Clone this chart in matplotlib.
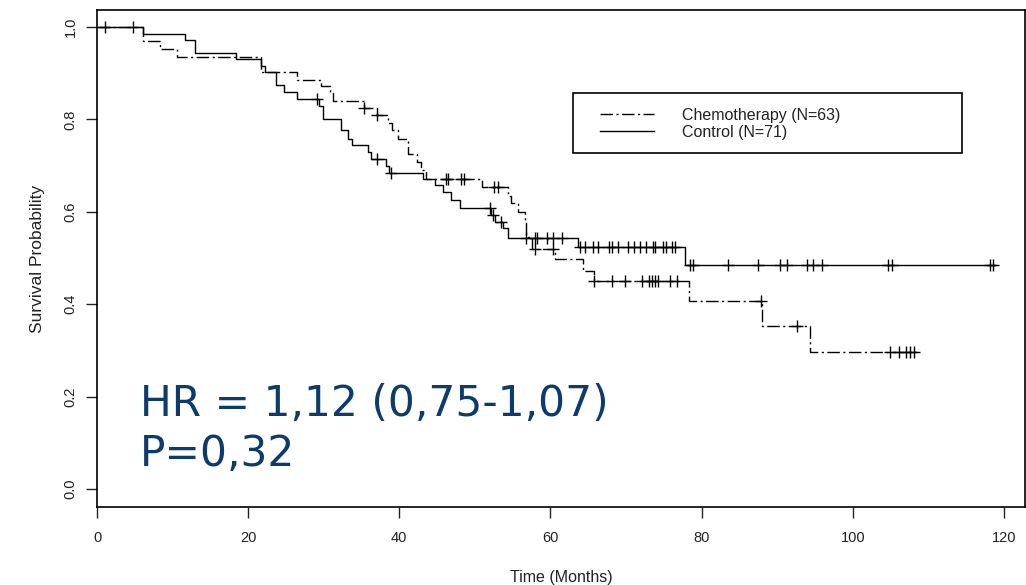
import numpy as np
import matplotlib
matplotlib.use('Agg')
import matplotlib.pyplot as plt
from matplotlib.patches import Rectangle

plt.rcParams['font.family'] = ['Liberation Sans', 'DejaVu Sans']
plt.rcParams['lines.scale_dashes'] = False

# Chemotherapy (N=63): step times and survival after each step
chemo_t = [0, 6.1, 8.4, 10.6, 21.7, 26.4, 29.7, 30.8, 31.2, 35.3, 37.0, 38.5, 39.0, 39.8,
           41.2, 42.3, 42.9, 43.6, 50.9, 54.4, 54.8, 55.7, 56.6, 56.8, 57.5, 60.6, 64.3,
           65.8, 78.3, 88.0, 94.4]
chemo_s = [1.0, 0.969, 0.952, 0.936, 0.902, 0.886, 0.873, 0.857, 0.841, 0.825, 0.809, 0.793,
           0.777, 0.758, 0.725, 0.707, 0.690, 0.672, 0.653, 0.635, 0.619, 0.599, 0.578, 0.545,
           0.519, 0.497, 0.472, 0.450, 0.407, 0.353, 0.296]
chemo_end = 108.5
chemo_cens = [35.3, 37.0, 46.2, 46.5, 48.2, 48.5, 52.6, 53.0, 57.9, 60.4, 65.8, 68.1, 69.9,
              72.1, 73.0, 73.4, 73.8, 74.3, 75.8, 76.7, 87.8, 92.6, 105.0, 106.1, 107.0,
              107.6, 108.1]

# Control (N=71)
ctrl_t = [0, 6.1, 11.7, 13.0, 18.4, 21.7, 22.2, 23.7, 24.8, 26.4, 29.4, 29.9, 32.3, 33.2,
          33.7, 35.9, 36.3, 38.3, 38.7, 43.2, 44.7, 45.8, 46.9, 48.0, 52.2, 52.7, 53.7, 54.4,
          63.7, 77.8]
ctrl_s = [1.0, 0.986, 0.972, 0.944, 0.930, 0.916, 0.902, 0.874, 0.859, 0.845, 0.830, 0.802,
          0.777, 0.758, 0.745, 0.729, 0.715, 0.700, 0.685, 0.672, 0.658, 0.642, 0.625, 0.609,
          0.594, 0.579, 0.565, 0.543, 0.523, 0.486]
ctrl_end = 118.8
ctrl_cens = [1.1, 4.7, 29.1, 37.0, 38.9, 52.0, 52.4, 53.4, 56.8, 57.9, 58.2, 59.5, 60.4, 61.5,
             63.9, 64.6, 65.7, 66.3, 67.7, 68.1, 69.0, 70.3, 71.0, 71.9, 72.7, 73.6, 73.8,
             74.9, 75.3, 76.1, 76.5, 78.5, 78.9, 83.5, 87.5, 90.4, 91.3, 93.9, 94.8, 95.9,
             104.7, 105.2, 118.2, 118.6]

labels = ['Chemotherapy (N=63)', 'Control (N=71)']
hr_text = 'HR = 1,12 (0,75-1,07)'
p_text = 'P=0,32'

dashdot = (0, (9, 2.5, 1.5, 2.5))


def km_curve(ax, t, s, end, cens, ls):
    tt = np.append(t, end)
    ss = np.append(s, s[-1])
    ax.step(tt, ss, where='post', color='black', lw=1.0, linestyle=ls)
    idx = np.searchsorted(t, cens, side='right') - 1
    ax.plot(cens, np.array(s)[idx], linestyle='none', marker='+', color='black',
            markersize=8, mew=1.0)


fig = plt.figure(figsize=(10.26, 5.85), dpi=100)
ax = fig.add_axes([97 / 1026, 1 - 507 / 585, 928 / 1026, 497 / 585])

km_curve(ax, chemo_t, chemo_s, chemo_end, chemo_cens, dashdot)
km_curve(ax, ctrl_t, ctrl_s, ctrl_end, ctrl_cens, '-')

ax.set_xlim(0, 122.8)
ax.set_ylim(-0.039, 1.037)
ax.set_xticks([0, 20, 40, 60, 80, 100, 120])
ax.set_yticks([0.0, 0.2, 0.4, 0.6, 0.8, 1.0])
ax.set_yticklabels(['0.0', '0.2', '0.4', '0.6', '0.8', '1.0'], rotation=90, va='center')
ax.tick_params(axis='both', direction='out', length=8, width=1.0, labelsize=10.5,
               colors='#222222')
ax.tick_params(axis='x', pad=9)
ax.tick_params(axis='y', pad=6)
for sp in ax.spines.values():
    sp.set_linewidth(1.2)
ax.set_xlabel('Time (Months)', fontsize=11.5, color='#222222', labelpad=18)
ax.set_ylabel('Survival Probability', fontsize=12.5, color='#222222', labelpad=13)

# legend box
ax.add_patch(Rectangle((0.513, 0.712), 0.419, 0.121, transform=ax.transAxes,
                       fill=False, edgecolor='black', lw=1.2))
h1, = ax.plot([], [], color='black', lw=1.0, linestyle=dashdot)
h2, = ax.plot([], [], color='black', lw=1.0)
ax.legend([h1, h2], labels, loc='upper left', bbox_to_anchor=(0.53, 0.826),
          frameon=False, fontsize=11.5, handlelength=3.4, handletextpad=1.75,
          labelspacing=0.12, borderpad=0.2, labelcolor='#222222')

ax.text(0.046, 0.183, hr_text, transform=ax.transAxes, fontsize=30.5, color='#0d3b6e',
        family='DejaVu Sans', va='baseline')
ax.text(0.046, 0.0825, p_text, transform=ax.transAxes, fontsize=30.5, color='#0d3b6e',
        family='DejaVu Sans', va='baseline')

fig.savefig('out.png', dpi=100)
